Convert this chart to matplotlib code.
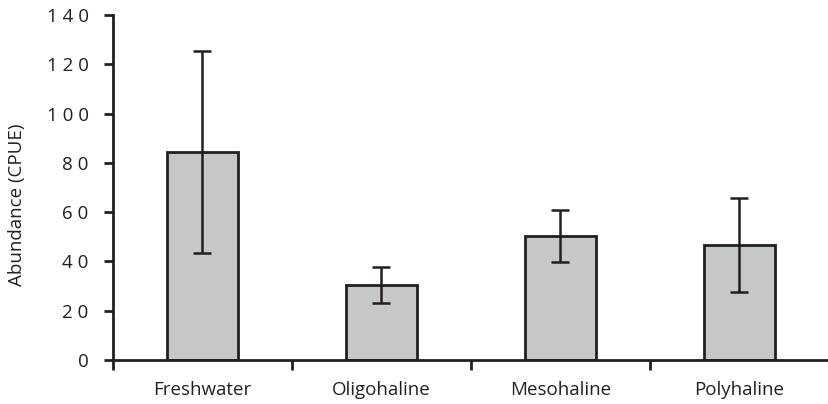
import matplotlib
matplotlib.use("Agg")
import matplotlib.pyplot as plt
import numpy as np

categories = ["Freshwater", "Oligohaline", "Mesohaline", "Polyhaline"]
means = [84.5, 30.5, 50.3, 46.6]
errors = [41.0, 7.3, 10.7, 19.0]
yticks = [0, 20, 40, 60, 80, 100, 120, 140]
ytick_labels = [" ".join(str(v)) for v in yticks]

plt.rcParams['font.family'] = ['Open Sans', 'DejaVu Sans']
dark = "#231f20"

fig = plt.figure(figsize=(8.29, 4.04), dpi=100)
ax = fig.add_axes([113/829, 44/404, (829-113)/829, 345/404])

x = np.arange(len(categories))
ax.bar(x, means, width=0.40, color="#c6c7c9", edgecolor=dark, linewidth=2.0, zorder=2)
ax.errorbar(x, means, yerr=errors, fmt="none", ecolor=dark, elinewidth=1.8,
            capsize=6.5, capthick=1.8, zorder=3)

ax.set_xlim(-0.5, -0.5 + (829 - 113) / 180.6)
ax.set_ylim(0, 140)

for s in ["top", "right"]:
    ax.spines[s].set_visible(False)
for s in ["left", "bottom"]:
    ax.spines[s].set_linewidth(2.0)
    ax.spines[s].set_color(dark)

ax.set_yticks(yticks)
ax.set_yticklabels(ytick_labels, fontsize=13.5, color=dark)
ax.tick_params(axis="y", length=6.5, width=2.0, color=dark, pad=11)

ax.set_xticks(np.arange(len(categories) + 1) - 0.5)
ax.set_xticklabels([])
ax.tick_params(axis="x", which="major", length=7, width=2.0, color=dark)
ax.set_xticks(x, minor=True)
ax.set_xticklabels(categories, minor=True, fontsize=13.5, color=dark)
ax.tick_params(axis="x", which="minor", length=0, pad=15)

ax.set_ylabel("Abundance (CPUE)", fontsize=13.5, color=dark)
ax.yaxis.set_label_coords(-0.121, 0.45)

fig.savefig("out.png", dpi=100)
